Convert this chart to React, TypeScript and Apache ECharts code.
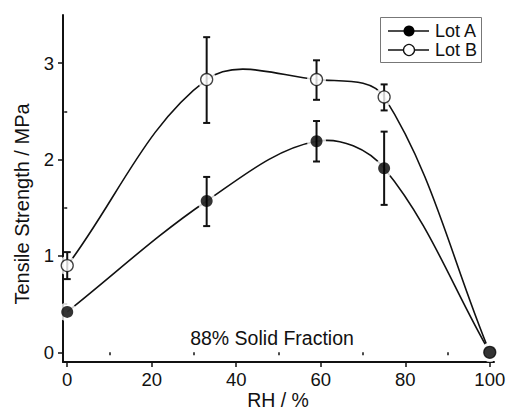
import React, { useEffect, useRef } from "react";
import * as echarts from "echarts";

const rh = [0, 33, 59, 75, 100];
const lotA = [0.42, 1.57, 2.19, 1.91, 0];
const lotALow = [null, 1.31, 1.98, 1.53, null];
const lotAHigh = [null, 1.82, 2.4, 2.29, null];
const lotB = [0.9, 2.83, 2.83, 2.65, 0];
const lotBLow = [0.76, 2.38, 2.62, 2.51, null];
const lotBHigh = [1.04, 3.27, 3.03, 2.78, null];

const xMajor = [0, 20, 40, 60, 80, 100];
const xMinor = [10, 30, 50, 70, 90];
const yMajor = [0, 1, 2, 3];
const yMinor = [0.5, 1.5, 2.5];

const INK = "#111";
const FONT = "'Liberation Sans', Arial, sans-serif";
const TENSION = 0.36;

function controlPoints(P: number[][], j: number) {
  const n = P.length;
  const prev = P[Math.max(0, j - 1)];
  const cur = P[j];
  const next = P[Math.min(n - 1, j + 1)];
  const d01 = Math.hypot(cur[0] - prev[0], cur[1] - prev[1]);
  const d12 = Math.hypot(next[0] - cur[0], next[1] - cur[1]);
  const s = d01 + d12 || 1;
  const fa = (TENSION * d01) / s;
  const fb = (TENSION * d12) / s;
  const dx = next[0] - prev[0];
  const dy = next[1] - prev[1];
  return {
    before: [cur[0] - fa * dx, cur[1] - fa * dy],
    after: [cur[0] + fb * dx, cur[1] + fb * dy],
  };
}

function splineSeries(name: string, ys: number[]) {
  return {
    name,
    type: "custom",
    data: rh.map((x, i) => [x, ys[i]]),
    encode: { x: 0, y: 1 },
    z: 1,
    silent: true,
    renderItem: (params: any, api: any) => {
      const i = params.dataIndex;
      const n = rh.length;
      if (i >= n - 1) return { type: "group", children: [] };
      const P = rh.map((x, j) => api.coord([x, ys[j]]));
      const c0 = controlPoints(P, i).after;
      const c1 = controlPoints(P, i + 1).before;
      return {
        type: "bezierCurve",
        shape: {
          x1: P[i][0],
          y1: P[i][1],
          x2: P[i + 1][0],
          y2: P[i + 1][1],
          cpx1: c0[0],
          cpy1: c0[1],
          cpx2: c1[0],
          cpy2: c1[1],
        },
        style: { stroke: INK, lineWidth: 1.6, fill: null },
      };
    },
  };
}

export default function App() {
  const ref = useRef<HTMLDivElement>(null);
  useEffect(() => {
    const chart = echarts.init(ref.current!, null, { renderer: "svg" });
    const pts = (ys: number[]) => rh.map((x, i) => [x, ys[i]]);
    const errs = (lo: (number | null)[], hi: (number | null)[]) =>
      rh
        .map((x, i) => (lo[i] == null || hi[i] == null ? null : [x, lo[i], hi[i]]))
        .filter((d) => d !== null);
    const errData = [...errs(lotALow, lotAHigh), ...errs(lotBLow, lotBHigh)];

    const axisCommon = {
      type: "value",
      splitLine: { show: false },
      axisLine: { show: true, onZero: false, lineStyle: { color: INK, width: 2 } },
    };

    chart.setOption({
      animation: false,
      backgroundColor: "#fff",
      grid: { left: 63, right: 13, top: 15, bottom: 49, containLabel: false, outerBoundsMode: "none" },
      xAxis: [
        {
          ...axisCommon,
          min: -1,
          max: 101,
          position: "bottom",
          axisTick: { show: true, customValues: xMajor, length: 5, lineStyle: { color: INK, width: 1.5 } },
          axisLabel: { customValues: xMajor, fontSize: 18.5, color: INK, fontFamily: FONT, margin: 8 },
        },
        {
          type: "value",
          min: -1,
          max: 101,
          position: "bottom",
          splitLine: { show: false },
          axisLine: { show: false },
          axisTick: { show: true, customValues: xMinor, length: 3, lineStyle: { color: INK, width: 1.5 } },
          axisLabel: { show: false },
        },
      ],
      yAxis: [
        {
          ...axisCommon,
          min: -0.1,
          max: 3.5,
          position: "left",
          axisTick: { show: true, customValues: yMajor, length: 5, lineStyle: { color: INK, width: 1.5 } },
          axisLabel: { customValues: yMajor, fontSize: 18.5, color: INK, fontFamily: FONT, margin: 9 },
        },
        {
          type: "value",
          min: -0.1,
          max: 3.5,
          position: "left",
          splitLine: { show: false },
          axisLine: { show: false },
          axisTick: { show: true, customValues: yMinor, length: 3, lineStyle: { color: INK, width: 1.5 } },
          axisLabel: { show: false },
        },
      ],
      series: [
        splineSeries("Lot B curve", lotB),
        splineSeries("Lot A curve", lotA),
        {
          name: "halo",
          type: "scatter",
          data: [...pts(lotB), ...pts(lotA)],
          symbol: "circle",
          symbolSize: 19,
          itemStyle: { color: "#fff" },
          z: 2,
          silent: true,
        },
        {
          name: "error",
          type: "custom",
          data: errData,
          encode: { x: 0, y: [1, 2] },
          z: 3,
          renderItem: (params: any, api: any) => {
            const x = api.value(0);
            const lo = api.coord([x, api.value(1)]);
            const hi = api.coord([x, api.value(2)]);
            const c = 3.5;
            const st = { stroke: INK, lineWidth: 2 };
            return {
              type: "group",
              children: [
                { type: "line", shape: { x1: lo[0], y1: lo[1], x2: hi[0], y2: hi[1] }, style: st },
                { type: "line", shape: { x1: lo[0] - c, y1: lo[1], x2: lo[0] + c, y2: lo[1] }, style: st },
                { type: "line", shape: { x1: hi[0] - c, y1: hi[1], x2: hi[0] + c, y2: hi[1] }, style: st },
              ],
            };
          },
        },
        {
          name: "Lot B",
          type: "scatter",
          data: pts(lotB),
          symbol: "circle",
          symbolSize: 12,
          itemStyle: { color: "#fff", borderColor: INK, borderWidth: 1.3 },
          z: 4,
        },
        {
          name: "Lot A",
          type: "scatter",
          data: pts(lotA),
          symbol: "circle",
          symbolSize: 12,
          itemStyle: { color: "#000" },
          z: 5,
        },
      ],
      graphic: [
        {
          type: "text",
          x: 278,
          y: 410,
          style: {
            text: "RH / %",
            fontSize: 19.5,
            lineHeight: 20,
            fontFamily: FONT,
            fill: INK,
            align: "center",
            verticalAlign: "bottom",
          },
        },
        {
          type: "text",
          x: 22,
          y: 204,
          rotation: Math.PI / 2,
          style: {
            text: "Tensile Strength / MPa",
            fontSize: 20,
            fontFamily: FONT,
            fill: INK,
            align: "center",
            verticalAlign: "middle",
          },
        },
        {
          type: "text",
          x: 272,
          y: 338,
          style: {
            text: "88% Solid Fraction",
            fontSize: 19.5,
            fontFamily: FONT,
            fill: INK,
            align: "center",
            verticalAlign: "middle",
          },
        },
        {
          type: "group",
          x: 380,
          y: 17,
          children: [
            { type: "rect", shape: { x: 0.5, y: 0.5, width: 101, height: 45 }, style: { fill: "#fff", stroke: "#777", lineWidth: 1 } },
            { type: "line", shape: { x1: 8, y1: 14, x2: 49, y2: 14 }, style: { stroke: INK, lineWidth: 1.6 } },
            { type: "circle", shape: { cx: 29, cy: 14, r: 5.5 }, style: { fill: "#000" } },
            { type: "text", x: 55, y: 14, style: { text: "Lot A", fontSize: 18, fontFamily: FONT, fill: INK, verticalAlign: "middle" } },
            { type: "line", shape: { x1: 8, y1: 33, x2: 49, y2: 33 }, style: { stroke: INK, lineWidth: 1.6 } },
            { type: "circle", shape: { cx: 29, cy: 33, r: 5.5 }, style: { fill: "#fff", stroke: INK, lineWidth: 1.3 } },
            { type: "text", x: 55, y: 33, style: { text: "Lot B", fontSize: 18, fontFamily: FONT, fill: INK, verticalAlign: "middle" } },
          ],
        },
      ],
    });
    return () => chart.dispose();
  }, []);
  return <div ref={ref} style={{ position: "fixed", left: 0, top: 0, width: 507, height: 411, background: "#fff" }} />;
}
